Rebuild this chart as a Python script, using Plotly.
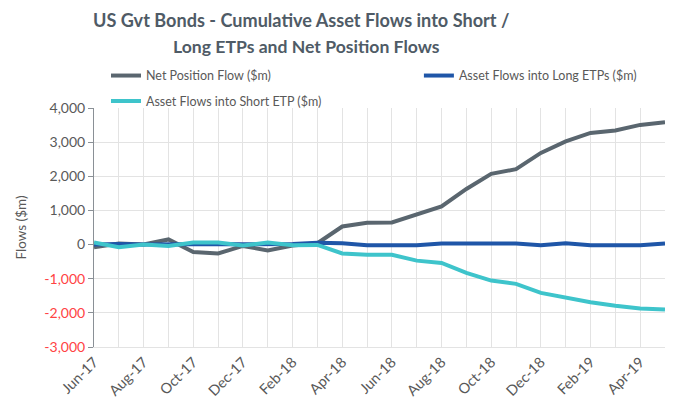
import plotly.graph_objects as go

months = ["Jun-17", "Jul-17", "Aug-17", "Sep-17", "Oct-17", "Nov-17", "Dec-17",
          "Jan-18", "Feb-18", "Mar-18", "Apr-18", "May-18", "Jun-18", "Jul-18",
          "Aug-18", "Sep-18", "Oct-18", "Nov-18", "Dec-18", "Jan-19", "Feb-19",
          "Mar-19", "Apr-19", "May-19"]
net_position = [-80, 30, 0, 150, -220, -260, -40, -170, -30, 40, 530, 640,
                650, 870, 1115, 1630, 2070, 2210, 2685, 3020, 3270, 3340, 3505, 3580]
long_flows = [0, 20, 0, 10, 20, 20, 10, 10, 20, 50, 40, -20,
              -20, -20, 30, 30, 30, 30, -20, 40, -20, -20, -20, 30]
short_flows = [60, -80, 0, -40, 60, 60, -30, 60, -20, -10, -260, -300,
               -300, -470, -540, -830, -1055, -1150, -1415, -1545, -1690, -1790, -1870, -1905]

y_ticks = [4000, 3000, 2000, 1000, 0, -1000, -2000, -3000]
title_lines = ["US Gvt Bonds - Cumulative Asset Flows into Short /",
               "Long ETPs and Net Position Flows"]

FONT = "Lato"
GREY_TXT = "#595959"
RED_TXT = "#ff4343"

y_ticktext = []
for v in y_ticks:
    s = f"{v:,}"
    if v < 0:
        s = f'<span style="color:{RED_TXT}">{s}</span>'
    y_ticktext.append(s)

x_ticktext = [m if i % 2 == 0 else "" for i, m in enumerate(months)]

fig = go.Figure()
fig.add_trace(go.Scatter(x=months, y=net_position, mode="lines",
                         name="Net Position Flow ($m)", legend="legend",
                         line=dict(color="#5a666f", width=4)))
fig.add_trace(go.Scatter(x=months, y=long_flows, mode="lines",
                         name="Asset Flows into Long ETPs ($m)", legend="legend2",
                         line=dict(color="#1f56a8", width=4)))
fig.add_trace(go.Scatter(x=months, y=short_flows, mode="lines",
                         name="Asset Flows into Short ETP ($m)", legend="legend3",
                         line=dict(color="#3ec4cb", width=4)))

leg_common = dict(orientation="h", xanchor="left", yanchor="top",
                  font=dict(family=FONT, size=12.5, color=GREY_TXT),
                  bgcolor="rgba(0,0,0,0)")

# the page body keeps its default 8px margin, so the figure is 8px smaller
fig.update_layout(
    width=684, height=393,
    margin=dict(l=86, r=27, t=100, b=54, autoexpand=False),
    paper_bgcolor="white", plot_bgcolor="white",
    font=dict(family=FONT, color=GREY_TXT, size=12),
    legend=dict(x=0.021, y=1.197, **leg_common),
    legend2=dict(x=0.569, y=1.197, **leg_common),
    legend3=dict(x=0.021, y=1.090, **leg_common),
    showlegend=True,
    annotations=[
        dict(text=f"<b>{title_lines[0]}</b>", xref="paper", yref="paper",
             x=0.3625, y=1.368, xanchor="center", yanchor="middle", showarrow=False,
             font=dict(family=FONT, size=18.1, color="#4f5b66")),
        dict(text=f"<b>{title_lines[1]}</b>", xref="paper", yref="paper",
             x=0.373, y=1.259, xanchor="center", yanchor="middle", showarrow=False,
             font=dict(family=FONT, size=17.6, color="#4f5b66")),
    ],
)

fig.update_xaxes(type="category", categoryorder="array", categoryarray=months,
                 range=[0, len(months) - 1],
                 tickmode="array", tickvals=months, ticktext=x_ticktext,
                 tickangle=-45, showgrid=True, gridcolor="#e3e3e3", gridwidth=1,
                 ticks="", showline=True, linecolor="#e3e3e3",
                 tickfont=dict(family=FONT, size=14.5, color=GREY_TXT))
fig.update_yaxes(range=[-3000, 4000], tickmode="array", tickvals=y_ticks,
                 ticktext=y_ticktext, showgrid=True, gridcolor="#e3e3e3",
                 zeroline=False, showline=True, linecolor="#8a9096", linewidth=1,
                 ticks="outside", ticklen=5, tickcolor="#8a9096",
                 tickfont=dict(family=FONT, size=14, color=GREY_TXT),
                 title=dict(text="Flows ($m)", standoff=14,
                            font=dict(family=FONT, size=13.5, color=GREY_TXT)))

fig.write_html("out.html")
